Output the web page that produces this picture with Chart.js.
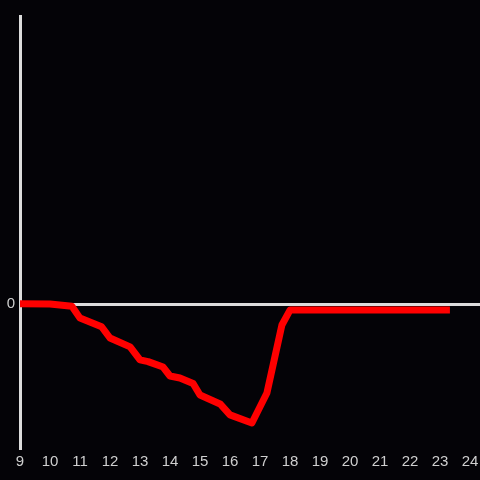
<!DOCTYPE html>
<html>
<head>
<meta charset="utf-8">
<script src="https://cdn.jsdelivr.net/npm/chart.js@4.4.1/dist/chart.umd.min.js"></script>
<style>
  html, body { margin: 0; padding: 0; background: #040307; }
  #wrap { width: 480px; height: 480px; }
</style>
</head>
<body>
<div id="wrap"><canvas id="chart"></canvas></div>
<script>
// hour of day (x) and value (y)
const HOURS  = [9, 10, 10.73, 11, 11.72, 12, 12.67, 13, 13.27, 13.77, 14, 14.33, 14.77, 15, 15.67, 16, 16.73, 17.23, 17.73, 18, 23.33];
const VALUES = [0.01, 0, -0.08, -0.49, -0.79, -1.18, -1.49, -1.94, -2.0, -2.19, -2.5, -2.57, -2.76, -3.16, -3.47, -3.85, -4.13, -3.09, -0.73, -0.21, -0.21];
const X_TICKS = [9, 10, 11, 12, 13, 14, 15, 16, 17, 18, 19, 20, 21, 22, 23, 24];
const Y_TICKS = [0];

const axisColor = '#dcdcdc';
const labelColor = '#cfcfcf';
const font = { family: 'Liberation Sans, Arial, sans-serif', size: 15 };

new Chart(document.getElementById('chart'), {
  type: 'line',
  data: {
    datasets: [{
      data: HOURS.map((h, i) => ({ x: h, y: VALUES[i] })),
      borderColor: '#ff0000',
      borderWidth: 7,
      borderJoinStyle: 'round',
      pointRadius: 0,
      tension: 0,
      fill: false
    }]
  },
  options: {
    responsive: true,
    maintainAspectRatio: false,
    animation: false,
    layout: { padding: { top: 16, right: 0, left: 0, bottom: 0 } },
    plugins: { legend: { display: false }, tooltip: { enabled: false } },
    scales: {
      x: {
        type: 'linear',
        min: 9,
        max: 24.333,
        afterBuildTicks: s => { s.ticks = X_TICKS.map(v => ({ value: v })); },
        afterFit: s => { s.height = 32; s.paddingRight = 0; s.paddingLeft = 0; },
        grid: { display: false, drawTicks: false },
        border: { display: false },
        ticks: { color: labelColor, font, padding: 5, maxRotation: 0, autoSkip: false }
      },
      y: {
        min: -5,
        max: 10,
        afterBuildTicks: s => { s.ticks = Y_TICKS.map(v => ({ value: v })); },
        afterFit: s => { s.width = 20; s.paddingTop = 0; s.paddingBottom = 0; },
        grid: { color: axisColor, lineWidth: 3, drawTicks: false },
        border: { display: true, color: axisColor, width: 3 },
        ticks: { color: labelColor, font, padding: 5 }
      }
    }
  }
});
</script>
</body>
</html>
